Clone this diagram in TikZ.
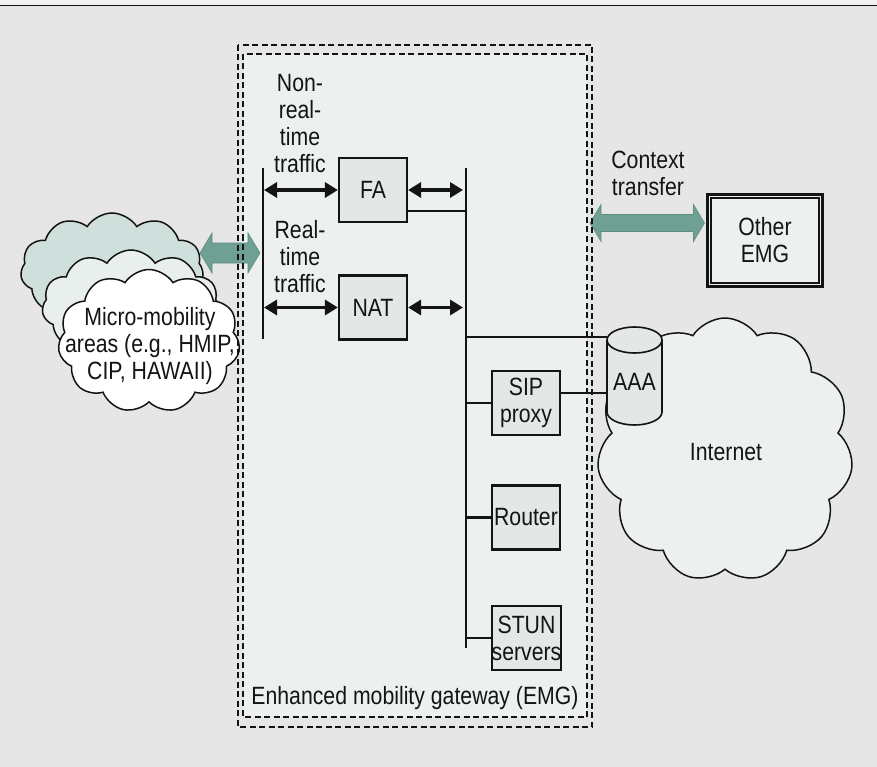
\documentclass[tikz,border=0pt]{standalone}
\usepackage{fontspec}
\setmainfont{Liberation Sans}[FakeStretch=0.85]
\usetikzlibrary{arrows.meta,shapes.symbols,calc}

\definecolor{pagebg}{HTML}{E6E6E6}
\definecolor{topstrip}{HTML}{F2F2F2}
\definecolor{emgfill}{HTML}{ECF1F0}
\definecolor{boxfill}{HTML}{E3E7E5}
\definecolor{linkgreen}{HTML}{6FA094}
\definecolor{linkgreenedge}{HTML}{5E8D81}
\definecolor{cloudback}{HTML}{CFDFDB}
\definecolor{cloudmid}{HTML}{E8EFED}
\definecolor{ink}{HTML}{141414}

\newcommand\lblfont{\fontsize{25}{27}\selectfont}

\begin{document}
\begin{tikzpicture}[x=1pt,y=-1pt,
  lbl/.style={text=ink, font=\lblfont, align=center, inner sep=0pt},
  box/.style={lbl, draw=ink, line width=2.2pt, fill=boxfill,
              minimum width=68pt, minimum height=64pt},
  bus/.style={draw=ink, line width=2.5pt},
  link/.style={draw=ink, line width=2.5pt},
  biarrow/.style={draw=ink, line width=3.4pt,
     {Triangle[length=13pt,width=15pt]}-{Triangle[length=13pt,width=15pt]}},
  dashbox/.style={draw=ink, line width=2.6pt, dash pattern=on 6pt off 3.5pt},
  cloudshape/.style={cloud, cloud puffs=11, cloud puff arc=115,
     cloud ignores aspect, draw=ink, line width=1.5pt, inner sep=0pt},
  fatarrow/.style={fill=linkgreen, draw=linkgreenedge, line width=0.6pt},
  cylbody/.style={fill=boxfill, draw=ink, line width=1.6pt}
]
\useasboundingbox (0,0) rectangle (877,767);

% page background and top rule
\fill[pagebg] (0,0) rectangle (877,767);
\fill[topstrip] (0,0) rectangle (877,5.5);
\draw[ink, line width=1.5pt] (0,5.5) -- (877,5.5);

% gateway area
\fill[emgfill] (243,54) rectangle (587,717);

% micro-mobility clouds
\node[cloudshape, fill=cloudback, minimum width=183pt, minimum height=114pt] (cl3) at (112,270) {};
\node[cloudshape, fill=cloudmid, minimum width=178pt, minimum height=112pt] (cl2) at (131,306) {};
\node[cloudshape, fill=white, minimum width=182pt, minimum height=143pt] (cl1) at (149,341) {};
\node[lbl] (micro) at (150,346) {Micro-mobility\\areas (e.g., HMIP,\\CIP, HAWAII)};

% internet cloud
\node[cloudshape, fill=emgfill, minimum width=256pt, minimum height=264pt] (inet) at (725,450) {};
\node[lbl] (inetlbl) at (726,452) {Internet};

% AAA server
\path[cylbody] (607,340) -- (607,412)
   arc[start angle=180, end angle=360, x radius=27.5pt, y radius=13pt]
   -- (662,340)
   arc[start angle=0, end angle=180, x radius=27.5pt, y radius=13pt] -- cycle;
\draw[ink, line width=1.6pt] (607,340)
   arc[start angle=180, end angle=360, x radius=27.5pt, y radius=13pt];
\node[lbl, minimum width=55pt] (aaa) at (634.5,382) {AAA};

% buses
\coordinate (ltop) at (263,168);
\coordinate (lbot) at (263,339);
\coordinate (btop) at (466,168);
\coordinate (bbot) at (466,648);
\draw[bus] (ltop) -- (lbot);
\draw[bus] (btop) -- (bbot);

% functional boxes
\node[box] (fa) at (373,190) {FA};
\node[box] (nat) at (373,307.5) {NAT};
\node[box] (sip) at (526,403) {SIP\\proxy};
\node[box] (router) at (526,517.5) {Router};
\node[box] (stun) at (526.5,638) {STUN\\servers};

% traffic arrows
\draw[biarrow] ($(fa.west -| ltop)+(1,0)$) -- (fa.west);
\draw[biarrow] (fa.east) -- ($(fa.east -| btop)+(-3,0)$);
\draw[biarrow] ($(nat.west -| ltop)+(1,0)$) -- (nat.west);
\draw[biarrow] (nat.east) -- ($(nat.east -| btop)+(-3,0)$);

% bus taps
\coordinate (fatap) at ($(fa.east)+(0,21)$);
\draw[link] (fatap) -- (fatap -| btop);
\coordinate (aaatop) at (607,337);
\coordinate (aaasip) at (607,393);
\draw[link] (aaatop -| btop) -- (aaatop -| aaa.west);
\draw[link] (sip.west -| btop) -- (sip.west);
\draw[link] (sip.east |- aaasip) -- (aaasip -| aaa.west);
\draw[link] (router.west -| btop) -- (router.west);
\draw[link] (stun.west -| btop) -- (stun.west);

% other gateway
\node[lbl, draw=ink, line width=3pt, fill=emgfill,
      minimum width=115pt, minimum height=92pt] (otheremg) at (765,240.5) {Other\\EMG};
\draw[ink, line width=1.3pt] ([xshift=5pt,yshift=-5pt]otheremg.north west)
   rectangle ([xshift=-5pt,yshift=5pt]otheremg.south east);

% wide link arrows
\coordinate (gaL) at (200,253);
\coordinate (gaR) at (260,253);
\path[fatarrow] (gaL) -- ++(12,-20) -- ++(0,10) -- ($(gaR)+(-12,-10)$) -- ++(0,-10)
   -- (gaR) -- ++(-12,20) -- ++(0,-10) -- ($(gaL)+(12,10)$) -- ++(0,10) -- cycle;
\coordinate (ctL) at (590,223);
\coordinate (ctR) at ($(otheremg.west |- ctL)+(-1.5,0)$);
\path[fatarrow] (ctL) -- ++(11,-18.5) -- ++(0,10) -- ($(ctR)+(-11,-8.5)$) -- ++(0,-10)
   -- (ctR) -- ++(-11,18.5) -- ++(0,-10) -- ($(ctL)+(11,8.5)$) -- ++(0,10) -- cycle;

% gateway outlines
\draw[dashbox] (238,45) rectangle (592,727);
\draw[dashbox] (243,54) rectangle (587,717);

% labels
\node[lbl] (nrt) at (300,123.5) {Non-\\real-\\time\\traffic};
\node[lbl] (rt) at (300,257) {Real-\\time\\traffic};
\node[lbl] (ctx) at (648,173.5) {Context\\transfer};
\node[lbl] (emg) at (415,698) {Enhanced mobility gateway (EMG)};
\end{tikzpicture}
\end{document}
